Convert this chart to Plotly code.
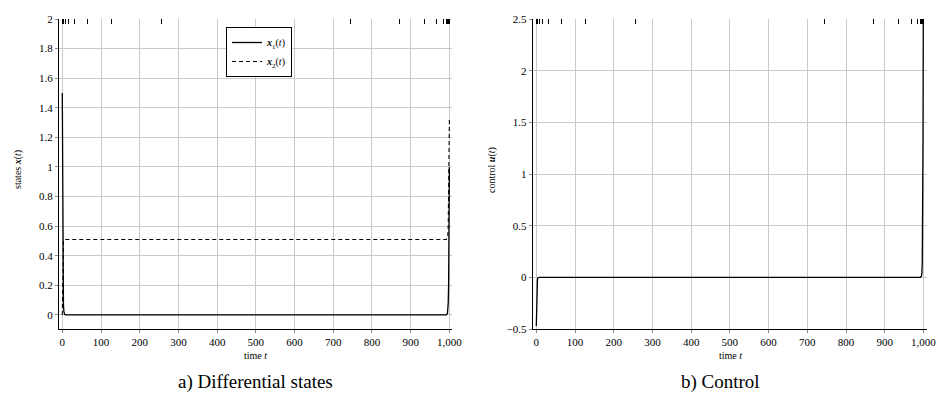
import plotly.graph_objects as go

# time grid of the discretisation (dense near both ends)
t = [0, 1, 2, 3, 4, 5, 6, 8, 16, 32, 64, 128, 256, 500, 744, 872, 936,
     968, 984, 992, 995, 996, 997, 998, 999, 1000]

# differential states
x1 = [1.5, 0.55, 0.2, 0.07, 0.025, 0.01, 0.004, 0.001, 0.0, 0.0, 0.0, 0.0, 0.0,
      0.0, 0.0, 0.0, 0.0, 0.0, 0.0, 0.0, 0.01, 0.03, 0.08, 0.2, 0.45, 1.0]
x2 = [0.0, 0.35, 0.48, 0.505, 0.51, 0.51, 0.51, 0.51, 0.51, 0.51, 0.51, 0.51, 0.51,
      0.51, 0.51, 0.51, 0.51, 0.51, 0.51, 0.51, 0.52, 0.54, 0.6, 0.75, 0.98, 1.33]

# control
u = [-0.47, -0.2, -0.07, -0.02, -0.006, -0.002, 0.0, 0.0, 0.0, 0.0, 0.0, 0.0, 0.0,
     0.0, 0.0, 0.0, 0.0, 0.0, 0.0, 0.0, 0.01, 0.04, 0.15, 0.5, 1.4, 3.2]

# mesh points marked along the top edge
mesh = [0, 1, 2, 4, 8, 16, 32, 64, 128, 256, 744, 872, 936, 968, 984, 992,
        996, 998, 999, 1000]

x_ticks = [0, 100, 200, 300, 400, 500, 600, 700, 800, 900, 1000]
y_ticks_a = [0, 0.2, 0.4, 0.6, 0.8, 1, 1.2, 1.4, 1.6, 1.8, 2]
y_ticks_b = [-0.5, 0, 0.5, 1, 1.5, 2, 2.5]

W, H = 937, 401
SERIF = "Liberation Serif, DejaVu Serif, serif"
GRID = "#c9c9c9"

fig = go.Figure()
fig.add_trace(go.Scatter(x=t, y=x1, mode="lines", name="<b><i>x</i></b><sub>1</sub>(<i>t</i>)",
                         line=dict(color="black", width=1.3), xaxis="x", yaxis="y"))
fig.add_trace(go.Scatter(x=t, y=x2, mode="lines", name="<b><i>x</i></b><sub>2</sub>(<i>t</i>)",
                         line=dict(color="black", width=1.1, dash="4px,3px"), xaxis="x", yaxis="y"))
fig.add_trace(go.Scatter(x=t, y=u, mode="lines", showlegend=False,
                         line=dict(color="black", width=1.3), xaxis="x2", yaxis="y2"))

dom_a = [59 / W, 451.7 / W]
dom_b = [532.7 / W, 927.3 / W]
dom_y = [1 - 329 / H, 1 - 19 / H]
rng_a = [-8.5, 1006]
rng_b = [-9.3, 1010]

base_x = dict(tickvals=x_ticks, tickformat=",", showgrid=True, gridcolor=GRID, gridwidth=1,
              showline=True, linecolor="black", linewidth=1.2, ticks="outside", ticklen=3,
              tickcolor="#888", tickfont=dict(family=SERIF, size=11, color="black"),
              zeroline=False, automargin=False)
base_y = dict(showgrid=True, gridcolor=GRID, gridwidth=1, showline=True, linecolor="black",
              linewidth=1.2, ticks="outside", ticklen=3, tickcolor="#888",
              tickfont=dict(family=SERIF, size=11, color="black"), zeroline=False,
              automargin=False)
mesh_ax = dict(tickvals=mesh, showticklabels=False, ticks="inside", ticklen=5, tickwidth=1.4,
               tickcolor="black", showgrid=False, showline=False, zeroline=False, side="top",
               automargin=False)

fig.update_layout(
    template="none",
    width=W, height=H, margin=dict(l=0, r=0, t=0, b=0, autoexpand=False),
    plot_bgcolor="white", paper_bgcolor="white",
    font=dict(family=SERIF, color="black"),
    xaxis=dict(base_x, domain=dom_a, range=rng_a, anchor="y"),
    yaxis=dict(base_y, domain=dom_y, range=[-0.095, 2.0], anchor="x", tickvals=y_ticks_a),
    xaxis2=dict(base_x, domain=dom_b, range=rng_b, anchor="y2"),
    yaxis2=dict(base_y, domain=dom_y, range=[-0.5, 2.5], anchor="x2", tickvals=y_ticks_b),
    xaxis3=dict(mesh_ax, overlaying="x", range=rng_a, anchor="y"),
    xaxis4=dict(mesh_ax, overlaying="x2", range=rng_b, anchor="y2"),
    legend=dict(x=226 / W, y=1 - 27 / H, xanchor="left", yanchor="top",
                bgcolor="white", bordercolor="black", borderwidth=1,
                font=dict(family=SERIF, size=10, color="black"),
                itemwidth=30, tracegroupgap=0),
    showlegend=True,
)

# invisible traces to activate the mesh-tick axes
fig.add_trace(go.Scatter(x=[0], y=[0], mode="markers", marker=dict(opacity=0),
                         showlegend=False, hoverinfo="skip", xaxis="x3", yaxis="y"))
fig.add_trace(go.Scatter(x=[0], y=[0], mode="markers", marker=dict(opacity=0),
                         showlegend=False, hoverinfo="skip", xaxis="x4", yaxis="y2"))

annots = [
    dict(text="states <b><i>x</i></b>(<i>t</i>)", x=18 / W, y=1 - 170 / H, textangle=-90,
         font=dict(family=SERIF, size=10, color="black")),
    dict(text="control <b><i>u</i></b>(<i>t</i>)", x=492 / W, y=1 - 170 / H, textangle=-90,
         font=dict(family=SERIF, size=10, color="black")),
    dict(text="time <i>t</i>", x=255 / W, y=1 - 355 / H,
         font=dict(family=SERIF, size=10, color="black")),
    dict(text="time <i>t</i>", x=730 / W, y=1 - 355 / H,
         font=dict(family=SERIF, size=10, color="black")),
    dict(text="a) Differential states", x=255 / W, y=1 - 382 / H,
         font=dict(family=SERIF, size=19, color="black")),
    dict(text="b) Control", x=720 / W, y=1 - 382 / H,
         font=dict(family=SERIF, size=19, color="black")),
]
for a in annots:
    fig.add_annotation(xref="paper", yref="paper", showarrow=False, xanchor="center",
                       yanchor="middle", **a)

fig.write_html("out.html")
